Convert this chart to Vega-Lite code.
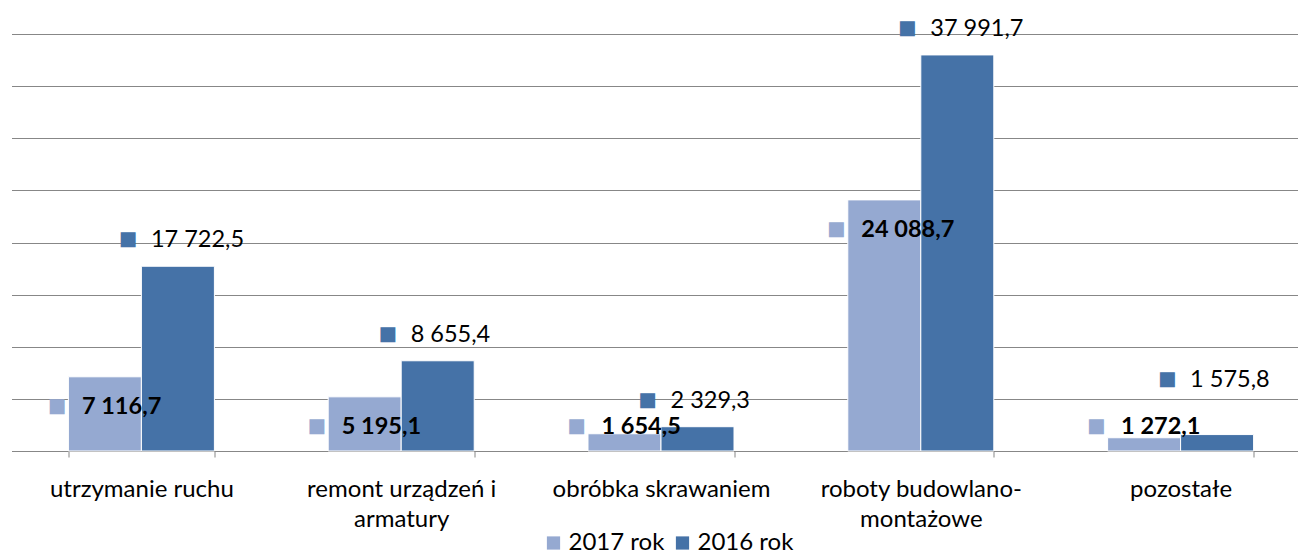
{
  "$schema": "https://vega.github.io/schema/vega-lite/v6.json",
  "width": 1299,
  "height": 417,
  "autosize": "none",
  "padding": {"left": 11.5, "top": 34, "right": 0, "bottom": 105},
  "config": {
    "view": {"stroke": null},
    "font": "Lato",
    "locale": {"number": {"decimal": ",", "thousands": " ", "grouping": [3], "currency": ["", ""]}}
  },
  "data": {
    "values": [
      {"cat": "utrzymanie ruchu", "year": "2017 rok", "value": 7116.7},
      {"cat": "utrzymanie ruchu", "year": "2016 rok", "value": 17722.5},
      {"cat": "remont urządzeń i armatury", "year": "2017 rok", "value": 5195.1},
      {"cat": "remont urządzeń i armatury", "year": "2016 rok", "value": 8655.4},
      {"cat": "obróbka skrawaniem", "year": "2017 rok", "value": 1654.5},
      {"cat": "obróbka skrawaniem", "year": "2016 rok", "value": 2329.3},
      {"cat": "roboty budowlano-montażowe", "year": "2017 rok", "value": 24088.7},
      {"cat": "roboty budowlano-montażowe", "year": "2016 rok", "value": 37991.7},
      {"cat": "pozostałe", "year": "2017 rok", "value": 1272.1},
      {"cat": "pozostałe", "year": "2016 rok", "value": 1575.8}
    ]
  },
  "encoding": {
    "x": {
      "field": "cat",
      "type": "nominal",
      "sort": null,
      "scale": {"paddingInner": 0.438, "paddingOuter": 0.219},
      "axis": {
        "title": null,
        "domain": true,
        "domainColor": "#878787",
        "domainWidth": 1,
        "ticks": true,
        "tickBand": "extent",
        "tickSize": 6,
        "tickColor": "#878787",
        "tickWidth": 1,
        "labelAngle": 0,
        "labelFont": "Lato",
        "labelFontSize": 24,
        "labelColor": "#000000",
        "labelPadding": 20,
        "labelBaseline": "top",
        "labelLineHeight": 30,
        "labelLimit": 0,
        "labelExpr": "datum.label == 'remont urządzeń i armatury' ? ['remont urządzeń i', 'armatury'] : datum.label == 'roboty budowlano-montażowe' ? ['roboty budowlano-', 'montażowe'] : datum.label"
      }
    },
    "xOffset": {
      "field": "year",
      "type": "nominal",
      "sort": ["2017 rok", "2016 rok"],
      "scale": {"paddingInner": 0, "paddingOuter": 0}
    }
  },
  "layer": [
    {
      "mark": {"type": "bar", "stroke": "#ffffff", "strokeWidth": 1},
      "encoding": {
        "y": {
          "field": "value",
          "type": "quantitative",
          "scale": {"domain": [0, 40000], "nice": false},
          "axis": {
            "title": null,
            "domain": false,
            "ticks": false,
            "labels": false,
            "grid": true,
            "gridColor": "#878787",
            "gridWidth": 1,
            "values": [5000, 10000, 15000, 20000, 25000, 30000, 35000, 40000]
          }
        },
        "color": {
          "field": "year",
          "type": "nominal",
          "scale": {"domain": ["2017 rok", "2016 rok"], "range": ["#95A9D1", "#4572A7"]},
          "legend": {
            "title": null,
            "orient": "none",
            "legendX": 530,
            "legendY": 497,
            "direction": "horizontal",
            "symbolType": "square",
            "symbolSize": 175,
            "symbolStrokeWidth": 0,
            "labelFont": "Lato",
            "labelFontSize": 24,
            "labelColor": "#000000",
            "labelOffset": 3,
            "columnPadding": 6
          }
        }
      }
    },
    {
      "transform": [{"filter": "datum.year == '2016 rok' && datum.value >= 2000"}],
      "encoding": {"y": {"field": "value", "type": "quantitative"}},
      "layer": [
        {
          "mark": {"type": "text", "align": "left", "baseline": "middle", "dx": -27, "dy": -26, "fontSize": 23.5, "font": "Lato", "color": "#000000"},
          "encoding": {"text": {"field": "value", "type": "quantitative", "format": ",.1f"}}
        },
        {
          "mark": {"type": "text", "align": "center", "baseline": "middle", "dx": -50, "dy": -27, "fontSize": 19.5, "font": "DejaVu Sans", "text": "■"},
          "encoding": {"color": {"field": "year", "type": "nominal", "legend": null}}
        }
      ]
    },
    {
      "transform": [{"filter": "datum.year == '2016 rok' && datum.value < 2000"}],
      "encoding": {"y": {"field": "value", "type": "quantitative"}},
      "layer": [
        {
          "mark": {"type": "text", "align": "left", "baseline": "middle", "dx": -27, "dy": -55, "fontSize": 23.5, "font": "Lato", "color": "#000000"},
          "encoding": {"text": {"field": "value", "type": "quantitative", "format": ",.1f"}}
        },
        {
          "mark": {"type": "text", "align": "center", "baseline": "middle", "dx": -50, "dy": -56, "fontSize": 19.5, "font": "DejaVu Sans", "text": "■"},
          "encoding": {"color": {"field": "year", "type": "nominal", "legend": null}}
        }
      ]
    },
    {
      "transform": [{"filter": "datum.year == '2017 rok' && datum.value >= 5000"}],
      "encoding": {"y": {"field": "value", "type": "quantitative"}},
      "layer": [
        {
          "mark": {"type": "text", "align": "left", "baseline": "middle", "dx": -23, "dy": 30, "fontSize": 23.5, "font": "Lato", "fontWeight": "bold", "color": "#000000"},
          "encoding": {"text": {"field": "value", "type": "quantitative", "format": ",.1f"}}
        },
        {
          "mark": {"type": "text", "align": "center", "baseline": "middle", "dx": -48, "dy": 29, "fontSize": 19.5, "font": "DejaVu Sans", "text": "■"},
          "encoding": {"color": {"field": "year", "type": "nominal", "legend": null}}
        }
      ]
    },
    {
      "transform": [{"filter": "datum.year == '2017 rok' && datum.value < 5000"}],
      "encoding": {"y": {"datum": 2300, "type": "quantitative"}},
      "layer": [
        {
          "mark": {"type": "text", "align": "left", "baseline": "middle", "dx": -23, "fontSize": 23.5, "font": "Lato", "fontWeight": "bold", "color": "#000000"},
          "encoding": {"text": {"field": "value", "type": "quantitative", "format": ",.1f"}}
        },
        {
          "mark": {"type": "text", "align": "center", "baseline": "middle", "dx": -48, "dy": -1, "fontSize": 19.5, "font": "DejaVu Sans", "text": "■"},
          "encoding": {"color": {"field": "year", "type": "nominal", "legend": null}}
        }
      ]
    }
  ]
}
